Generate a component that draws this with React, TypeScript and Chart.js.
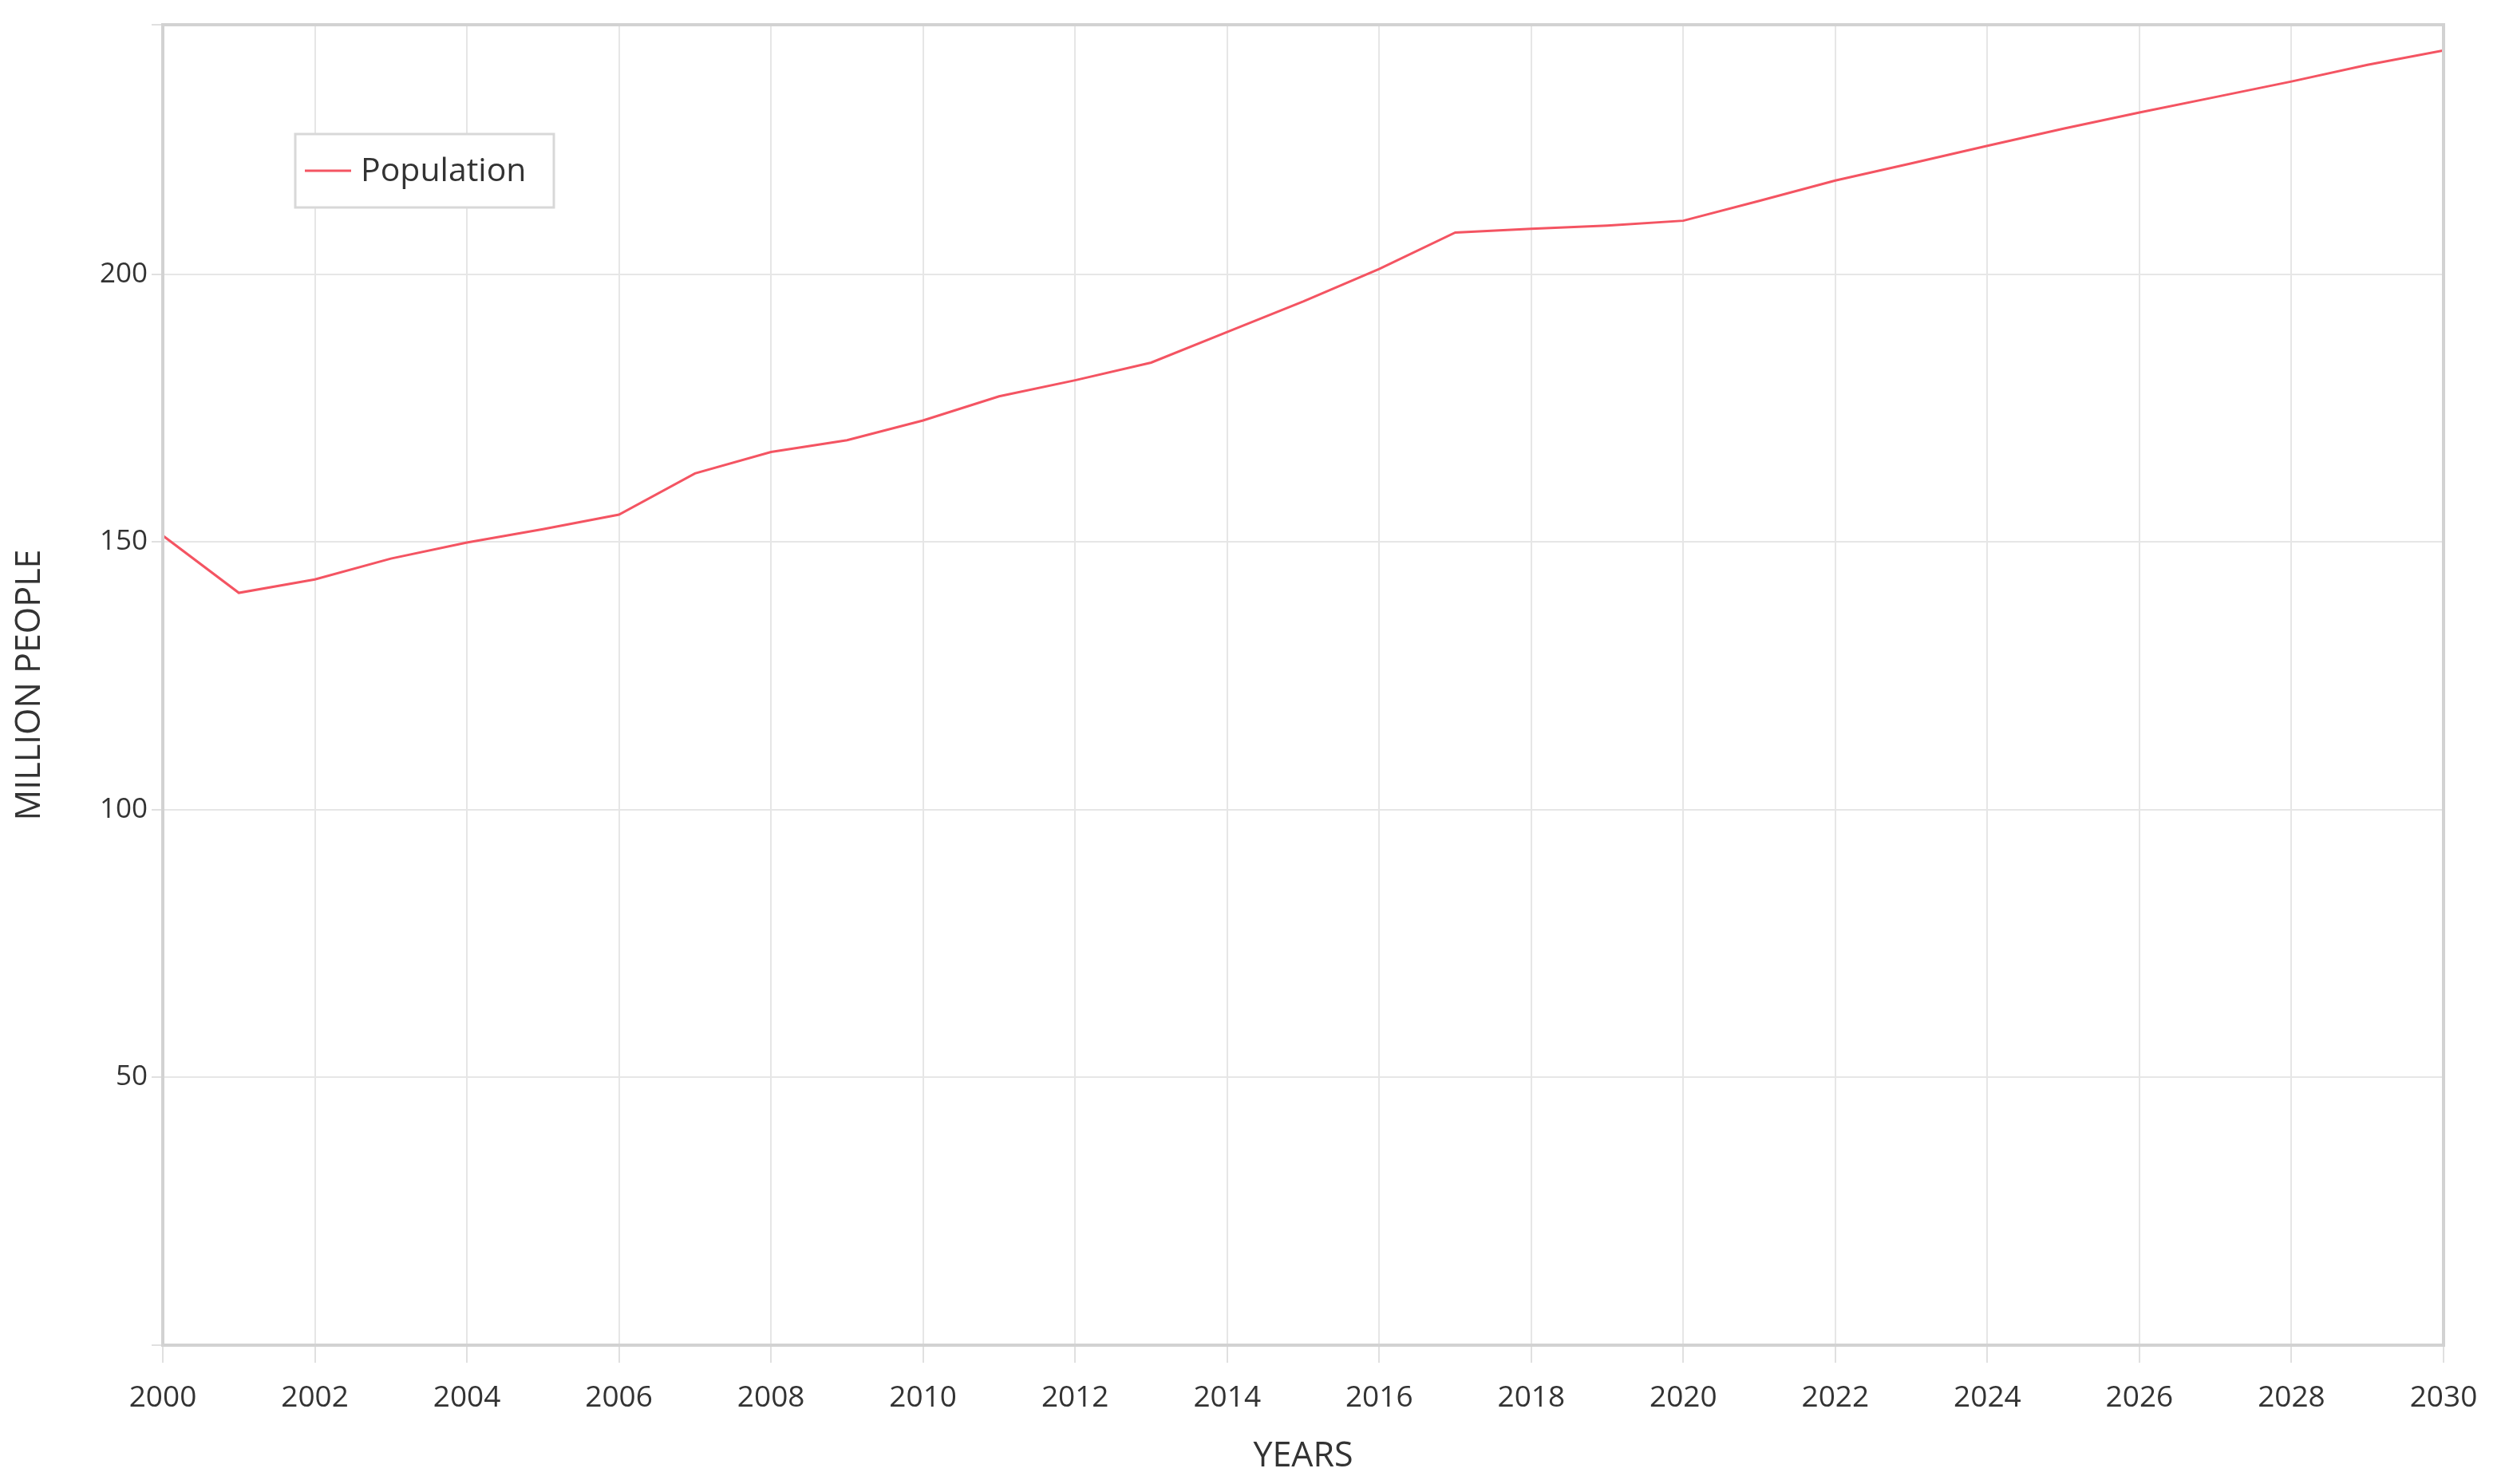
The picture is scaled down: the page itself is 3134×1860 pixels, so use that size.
import React, { useEffect, useRef } from "react";
import { Chart, registerables } from "chart.js";

Chart.register(...registerables);

const years = [
  2000, 2001, 2002, 2003, 2004, 2005, 2006, 2007, 2008, 2009, 2010,
  2011, 2012, 2013, 2014, 2015, 2016, 2017, 2018, 2019, 2020,
  2021, 2022, 2023, 2024, 2025, 2026, 2027, 2028, 2029, 2030,
];
const population = [
  151.2, 140.5, 143.0, 146.9, 149.9, 152.4, 155.1, 162.8, 166.8, 169.0, 172.7,
  177.2, 180.2, 183.5, 189.2, 194.9, 201.0, 207.8, 208.5, 209.1, 210.0,
  213.7, 217.5, 220.7, 224.0, 227.2, 230.2, 233.1, 236.0, 239.1, 241.8,
];
const seriesLabel = "Population";
const xTitle = "YEARS";
const yTitle = "MILLION PEOPLE";

const W = 3134;
const H = 1860;
const FONT = "'Open Sans', 'Noto Sans', sans-serif";
const TEXT = "#333333";

const frameAndLegend = {
  id: "frameAndLegend",
  afterDraw(chart: any) {
    const { ctx, chartArea } = chart;
    const { left, top, right, bottom } = chartArea;
    ctx.save();
    ctx.strokeStyle = "#d2d2d2";
    ctx.lineWidth = 4;
    ctx.strokeRect(left, top, right - left, bottom - top);

    // legend box inside the plot
    const bx = left + 166;
    const by = top + 137;
    const bw = 324;
    const bh = 92;
    ctx.fillStyle = "#ffffff";
    ctx.fillRect(bx, by, bw, bh);
    ctx.strokeStyle = "#d8d8d8";
    ctx.lineWidth = 3;
    ctx.strokeRect(bx, by, bw, bh);
    const ds = chart.data.datasets[0];
    const cy = by + bh / 2;
    ctx.strokeStyle = ds.borderColor;
    ctx.lineWidth = 3;
    ctx.beginPath();
    ctx.moveTo(bx + 12, cy);
    ctx.lineTo(bx + 70, cy);
    ctx.stroke();
    ctx.fillStyle = TEXT;
    ctx.font = `41px ${FONT}`;
    ctx.textBaseline = "middle";
    ctx.textAlign = "left";
    ctx.fillText(ds.label, bx + 82, cy + 1);
    ctx.restore();
  },
};

export default function App() {
  const ref = useRef<HTMLCanvasElement | null>(null);

  useEffect(() => {
    document.body.style.margin = "0";
    const canvas = ref.current;
    if (!canvas) return;
    const chart = new Chart(canvas, {
      type: "line",
      data: {
        datasets: [
          {
            label: seriesLabel,
            data: years.map((y, i) => ({ x: y, y: population[i] })),
            borderColor: "rgb(244, 84, 98)",
            backgroundColor: "rgb(244, 84, 98)",
            borderWidth: 3,
            pointRadius: 0,
            tension: 0,
            fill: false,
          },
        ],
      },
      options: {
        responsive: false,
        animation: false,
        devicePixelRatio: 1,
        layout: { padding: { top: 31, right: 72, bottom: 8, left: 0 } },
        plugins: {
          legend: { display: false },
          tooltip: { enabled: false },
        },
        scales: {
          x: {
            type: "linear",
            min: 2000,
            max: 2030,
            ticks: {
              stepSize: 2,
              color: TEXT,
              font: { family: FONT, size: 37 },
              padding: 22,
              maxRotation: 0,
              callback: (v: any) => String(v),
            },
            grid: { color: "#e6e6e6", lineWidth: 2, tickLength: 22, tickColor: "#e0e0e0" },
            border: { display: false },
            title: {
              display: true,
              text: xTitle,
              color: TEXT,
              font: { family: FONT, size: 43 },
              padding: { top: 0, bottom: 0 },
            },
            afterFit: (s: any) => {
              s.height = H - 1686 - 8;
            },
          },
          y: {
            type: "linear",
            min: 0,
            max: 246.6,
            ticks: {
              stepSize: 50,
              color: TEXT,
              font: { family: FONT, size: 35 },
              padding: 5,
              callback: (v: any) => (v === 0 || v % 50 !== 0 ? "" : String(v)),
            },
            grid: { color: "#e6e6e6", lineWidth: 2, tickLength: 14, tickColor: "#e0e0e0" },
            border: { display: false },
            title: {
              display: true,
              text: yTitle,
              color: TEXT,
              font: { family: FONT, size: 43 },
              padding: { top: 12, bottom: 0 },
            },
            afterFit: (s: any) => {
              s.width = 204;
            },
          },
        },
      },
      plugins: [frameAndLegend],
    });
    return () => chart.destroy();
  }, []);

  return (
    <canvas
      ref={ref}
      width={W}
      height={H}
      style={{ display: "block", width: W + "px", height: H + "px" }}
    />
  );
}
